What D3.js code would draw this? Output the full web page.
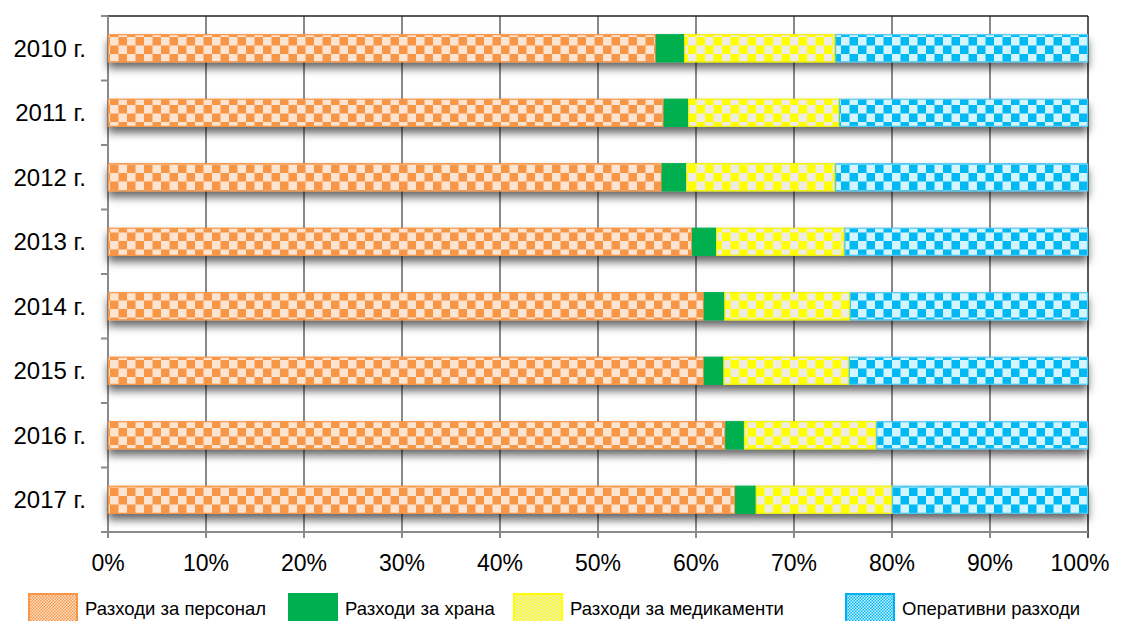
<!DOCTYPE html>
<html><head><meta charset="utf-8">
<script src="https://cdn.jsdelivr.net/npm/d3@7"></script>
<style>body{margin:0;background:#fff;} text{font-family:Arial,"Liberation Sans",sans-serif;fill:#000;}</style>
</head><body>
<svg id="c" width="1121" height="621"></svg>
<script>
const years = ["2010 г.","2011 г.","2012 г.","2013 г.","2014 г.","2015 г.","2016 г.","2017 г."];
const seriesNames = ["Разходи за персонал","Разходи за храна","Разходи за медикаменти","Оперативни разходи"];
const personnel = [55.9,56.7,56.5,59.6,60.8,60.8,63.0,64.0];
const food =      [2.9, 2.5, 2.5, 2.45,2.1, 2.0, 1.9, 2.1];
const meds =      [15.4,15.4,15.2,13.1,12.8,12.8,13.5,13.9];
const operating = [25.8,25.4,25.8,24.85,24.3,24.4,21.6,20.0];
const xTicks = [0,0.1,0.2,0.3,0.4,0.5,0.6,0.7,0.8,0.9,1.0];

const svg = d3.select("#c");
const L=108, R=1088, T=16, B=532;
const x = d3.scaleLinear().domain([0,1]).range([L,R]);
const y = d3.scaleBand().domain(years).range([T,B]).paddingInner(0.58).paddingOuter(0.29);

const defs = svg.append("defs");
const pats = [
  {id:"pOr", dark:"#F79646", light:"#FDE4D0"},
  {id:"pYe", dark:"#FFFF00", light:"#EEECE1"},
  {id:"pBl", dark:"#00B8F2", light:"#D3F5FF"}
];
pats.forEach(p=>{
  const s=17, h=s/2;
  const pt = defs.append("pattern").attr("id",p.id).attr("patternUnits","userSpaceOnUse")
    .attr("width",s).attr("height",s).attr("x",L+2).attr("y",T+21);
  pt.append("rect").attr("width",s).attr("height",s).attr("fill",p.dark);
  pt.append("rect").attr("x",0).attr("y",0).attr("width",h).attr("height",h).attr("fill",p.light);
  pt.append("rect").attr("x",h).attr("y",h).attr("width",h).attr("height",h).attr("fill",p.light);
  const sm = defs.append("pattern").attr("id",p.id+"s").attr("patternUnits","userSpaceOnUse")
    .attr("width",3).attr("height",3);
  sm.append("rect").attr("width",3).attr("height",3).attr("fill",p.dark);
  sm.append("rect").attr("width",1.5).attr("height",1.5).attr("fill",p.light);
  sm.append("rect").attr("x",1.5).attr("y",1.5).attr("width",1.5).attr("height",1.5).attr("fill",p.light);
});
const f = defs.append("filter").attr("id","sh").attr("x","-5%").attr("y","-50%").attr("width","110%").attr("height","250%");
f.append("feDropShadow").attr("dx",0).attr("dy",6).attr("stdDeviation",4).attr("flood-color","#000").attr("flood-opacity",0.6);

const fills = ["url(#pOr)","#00B050","url(#pYe)","url(#pBl)"];
const strokes = ["#F79646","#00B050","#F2F200","#4FC8F2"];
const legFills = ["url(#pOrs)","#00B050","url(#pYes)","url(#pBls)"];
const legStrokes = ["#F79646","#00B050","#FFFF00","#00B0F0"];

// gridlines
svg.append("g").selectAll("line").data(xTicks).join("line")
  .attr("x1",d=>x(d)).attr("x2",d=>x(d)).attr("y1",T).attr("y2",B+6)
  .attr("stroke",d=>d===1?"#222":"#8a8a8a").attr("stroke-width",d=>d===1?1.5:2);
// top border
svg.append("line").attr("x1",L).attr("x2",R).attr("y1",T).attr("y2",T).attr("stroke","#222").attr("stroke-width",1.5);
// axes
svg.append("line").attr("x1",L).attr("x2",L).attr("y1",T).attr("y2",B).attr("stroke","#8a8a8a").attr("stroke-width",2);
svg.append("line").attr("x1",L-7).attr("x2",R).attr("y1",B).attr("y2",B).attr("stroke","#8a8a8a").attr("stroke-width",2);
const step = y.step();
svg.append("g").selectAll("line").data(d3.range(years.length)).join("line")
  .attr("x1",L-7).attr("x2",L).attr("y1",i=>T+i*step).attr("y2",i=>T+i*step)
  .attr("stroke","#8a8a8a").attr("stroke-width",2);

// bars
const series = [personnel,food,meds,operating];
const rows = years.map((yr,i)=>{
  const tot = series.reduce((a,s)=>a+s[i],0);
  let acc=0;
  return series.map((s,k)=>{const v=s[i]/tot; const r={yr,k,x0:acc,x1:acc+v}; acc+=v; return r;});
});
const bg = svg.append("g").attr("filter","url(#sh)");
rows.forEach(r=>{
  bg.selectAll(null).data(r).join("rect")
    .attr("x",d=>x(d.x0)+0.5).attr("width",d=>x(d.x1)-x(d.x0)-1)
    .attr("y",d=>y(d.yr)).attr("height",y.bandwidth())
    .attr("fill",d=>fills[d.k]).attr("stroke",d=>strokes[d.k]).attr("stroke-width",1.2);
});

// y labels
svg.append("g").selectAll("text").data(years).join("text")
  .attr("x",86).attr("y",d=>y(d)+y.bandwidth()/2).attr("dy","0.36em")
  .attr("text-anchor","end").attr("font-size",24).text(d=>d);
// x labels
svg.append("g").selectAll("text").data(xTicks).join("text")
  .attr("x",d=>d===1?x(d)-8:x(d)).attr("y",571).attr("text-anchor","middle").attr("font-size",23)
  .text(d=>d3.format(".0%")(d));

// legend
const legX = [28,288,513,845];
const lg = svg.append("g");
seriesNames.forEach((n,k)=>{
  lg.append("rect").attr("x",legX[k]+1).attr("y",594).attr("width",48).attr("height",30)
    .attr("fill",legFills[k]).attr("stroke",legStrokes[k]).attr("stroke-width",2);
  lg.append("text").attr("x",legX[k]+57).attr("y",615).attr("font-size",18.5).text(n);
});
</script>
</body></html>
